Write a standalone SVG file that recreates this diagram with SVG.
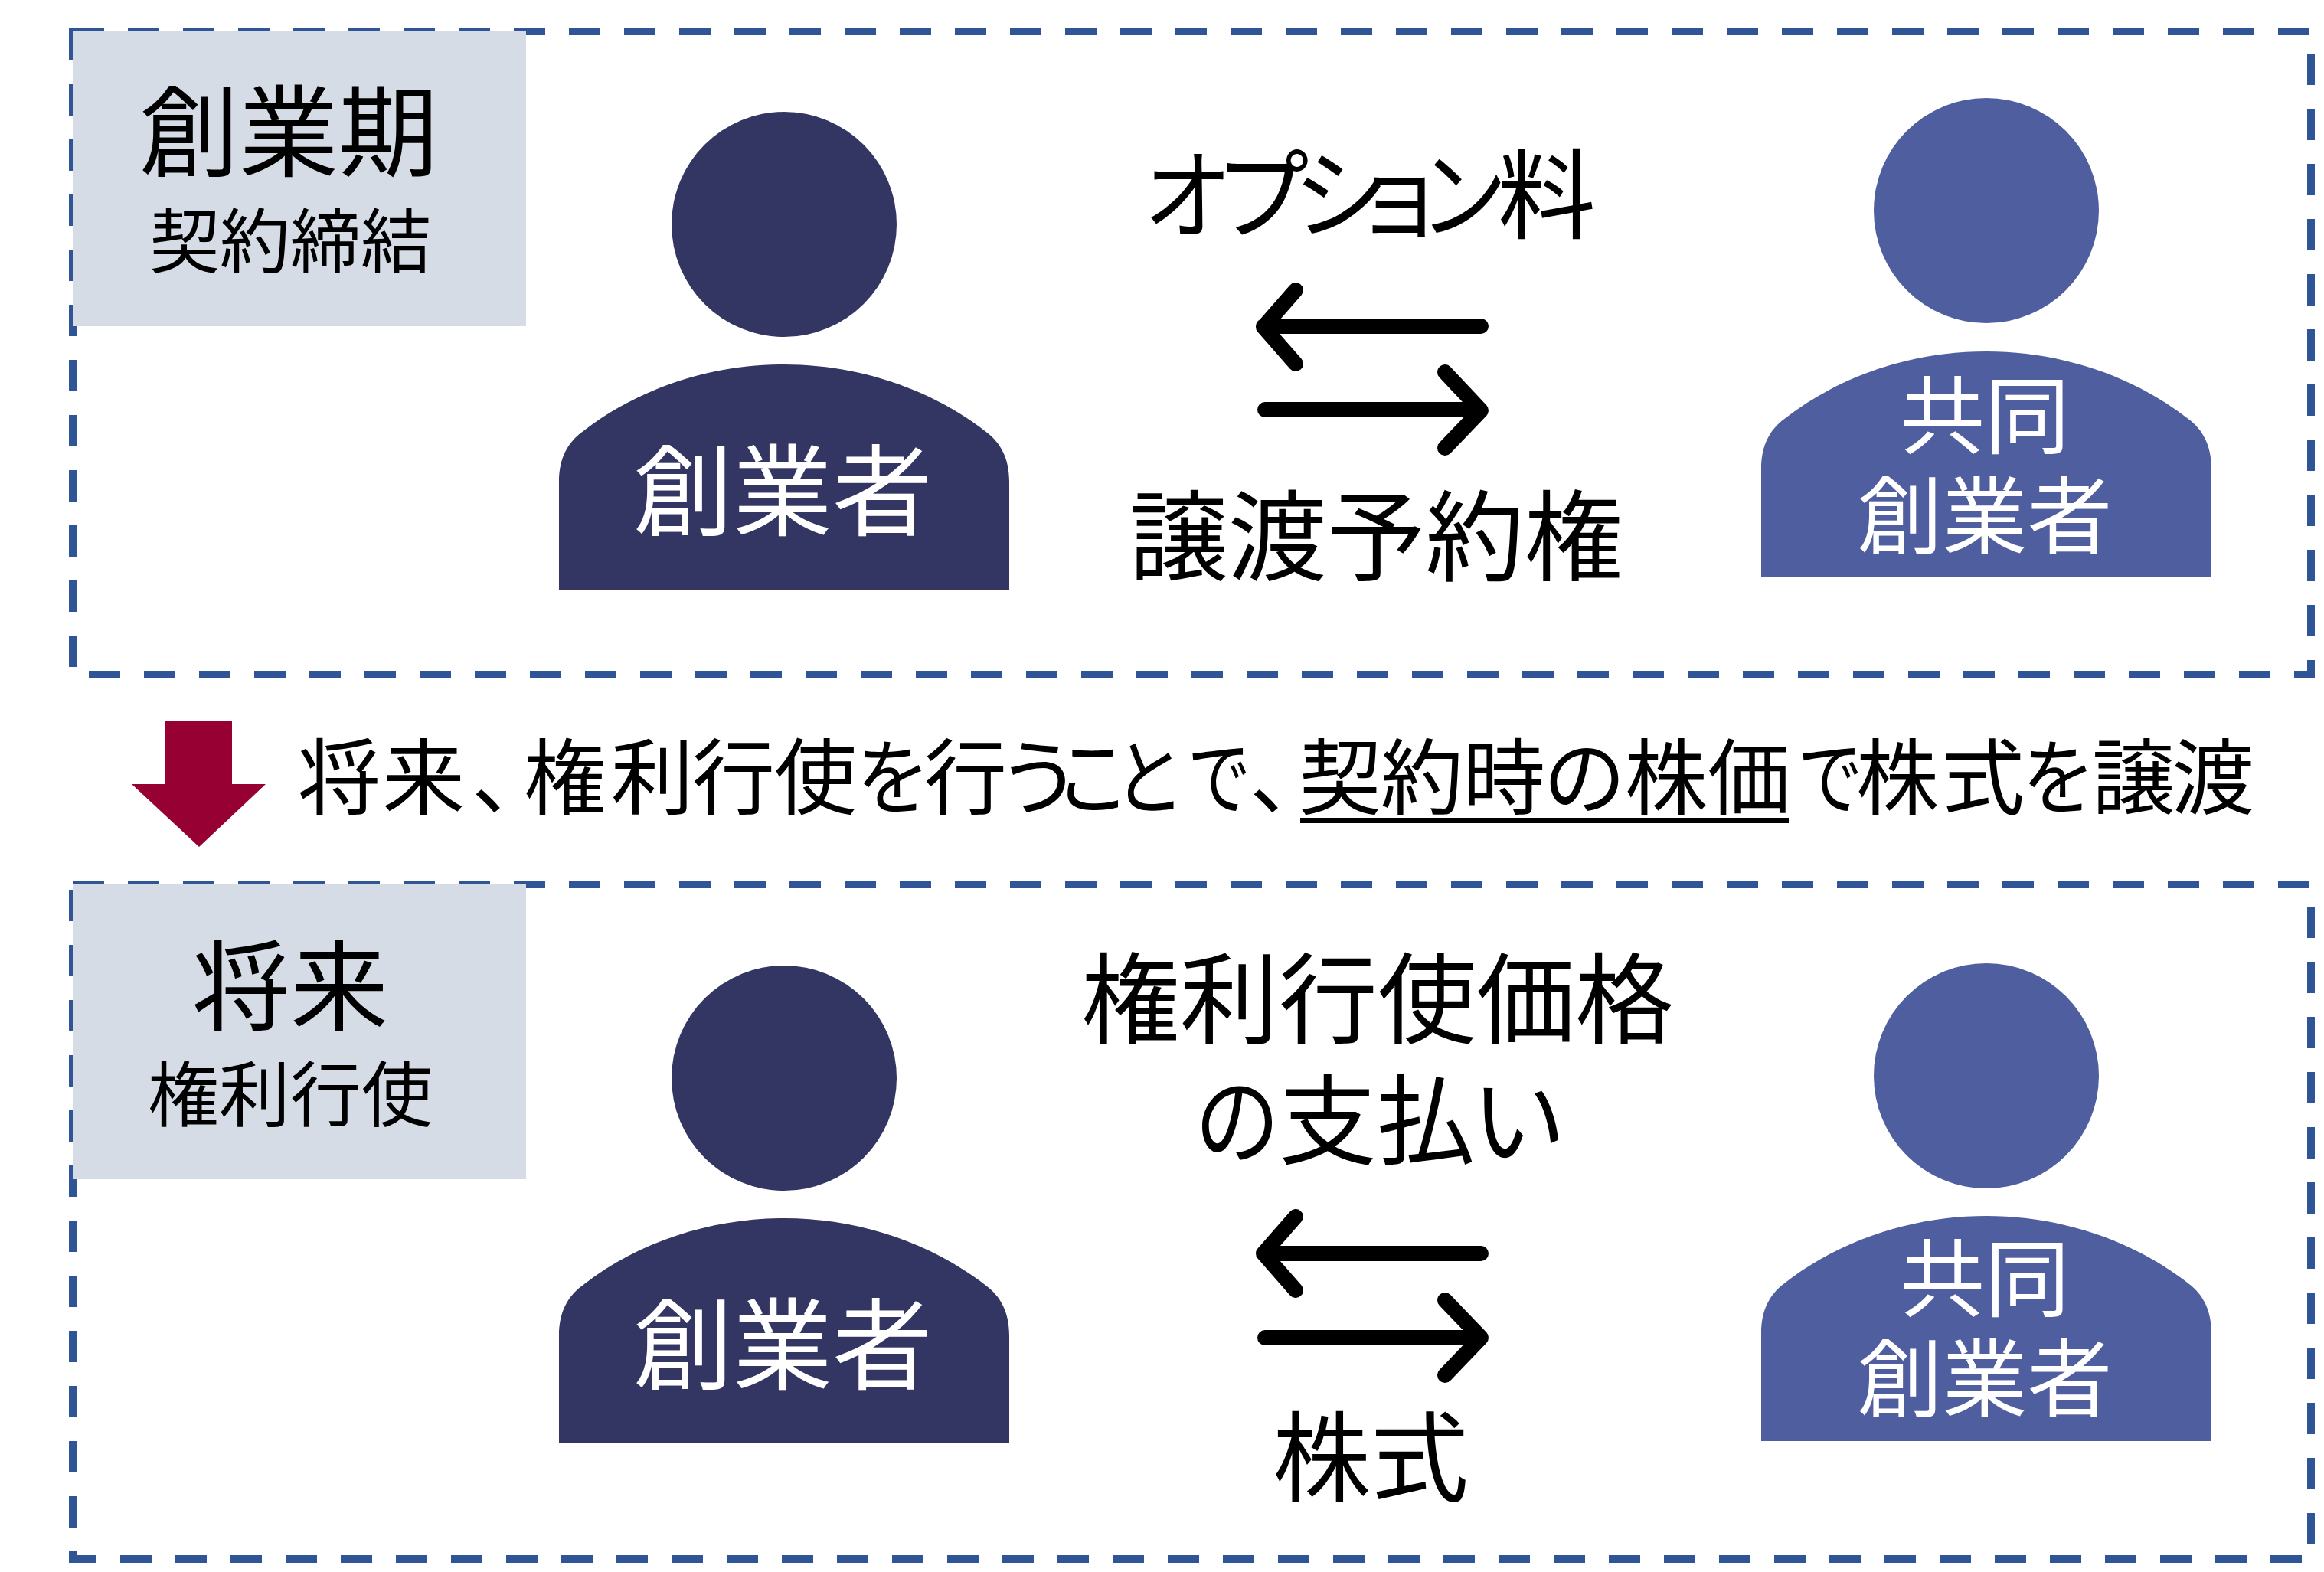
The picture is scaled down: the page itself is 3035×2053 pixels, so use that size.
<svg xmlns="http://www.w3.org/2000/svg" width="3035" height="2053" viewBox="0 0 3035 2053">
<style>
text{font-family:"Noto Sans CJK JP","Noto Sans",sans-serif;fill:#000;text-anchor:middle;font-feature-settings:"palt"}
.s{text-anchor:start}
.w{fill:#fff}
.m{font-size:108px;text-anchor:start}
.k{font-size:128px;text-anchor:start}
.frame{fill:none;stroke:#2F5597;stroke-width:10;stroke-dasharray:41 31}
.tag{fill:#D6DCE5}
.dark{fill:#333563}
.light{fill:#4F5E9F}
.arr{fill:none;stroke:#000;stroke-width:20;stroke-linecap:round;stroke-linejoin:round}
</style>
<defs>
<path id="body" d="M-294,294V153C-294,122-282,102-265,89C-190,30-94,0,0,0C94,0,190,30,265,89C282,102,294,122,294,153V294Z"/>
</defs>
<rect width="3035" height="2053" fill="#fff"/>
<g id="panel-top"><rect class="frame" x="95" y="41" width="2923" height="840"/></g>
<g id="panel-bottom"><rect class="frame" x="95" y="1155" width="2923" height="881"/></g>
<g id="tag-top"><rect class="tag" x="95" y="41" width="592" height="385"/>
<text x="377" y="220" font-size="130">創業期</text><text x="379" y="349" font-size="92">契約締結</text></g>
<g id="tag-bottom"><rect class="tag" x="95" y="1155" width="592" height="385"/>
<text x="379" y="1336" font-size="128">将来</text><text x="379" y="1464" font-size="93">権利行使</text></g>
<g id="founder-top"><circle class="dark" cx="1024" cy="293" r="147"/><use href="#body" class="dark" x="1024" y="476"/>
<text class="w" x="1022" y="689" font-size="130">創業者</text></g>
<g id="cofounder-top"><circle class="light" cx="2594" cy="275" r="147"/><use href="#body" class="light" x="2594" y="459"/>
<text class="w" x="2592" y="584" font-size="111">共同</text><text class="w" x="2592" y="715" font-size="111">創業者</text></g>
<g id="founder-bottom"><circle class="dark" cx="1024" cy="1408" r="147"/><use href="#body" class="dark" x="1024" y="1591"/>
<text class="w" x="1022" y="1804" font-size="130">創業者</text></g>
<g id="cofounder-bottom"><circle class="light" cx="2594" cy="1405" r="147"/><use href="#body" class="light" x="2594" y="1588"/>
<text class="w" x="2592" y="1711" font-size="111">共同</text><text class="w" x="2592" y="1842" font-size="111">創業者</text></g>
<g id="connectors">
<path class="arr" d="M1934,426H1650M1692,379L1650,427L1692,475"/>
<path class="arr" d="M1652,535H1932M1887,486L1934,536L1887,585"/>
<path class="arr" d="M1934,1637H1650M1692,1589L1650,1637L1692,1685"/>
<path class="arr" d="M1652,1747H1932M1887,1698L1934,1747L1887,1796"/>
</g>
<g id="labels">
<text class="k" y="302" x="1495" textLength="107" lengthAdjust="spacingAndGlyphs">オ</text>
<text class="k" y="302" x="1594" textLength="113" lengthAdjust="spacingAndGlyphs">プ</text>
<text class="k" y="302" x="1690" textLength="116" lengthAdjust="spacingAndGlyphs">シ</text>
<text class="k" y="302" x="1783" textLength="90" lengthAdjust="spacingAndGlyphs">ョ</text>
<text class="k" y="302" x="1860" textLength="102" lengthAdjust="spacingAndGlyphs">ン</text>
<text class="k" x="1956" y="302">料</text>
<text x="1797" y="749" font-size="129">譲渡予約権</text>
<text x="1799" y="1353" font-size="129">権利行使価格</text>
<text class="k" y="1511" x="1562" textLength="107" lengthAdjust="spacingAndGlyphs">の</text>
<text class="k" y="1511" x="1670">支払</text>
<text class="k" y="1511" x="1924" textLength="116" lengthAdjust="spacingAndGlyphs">い</text>
<text x="1790" y="1951" font-size="128">株式</text>
</g>
<g id="transition">
<path d="M216,941H303V1024H347L260,1106L172,1024H216Z" fill="#960032"/>
<text class="m" y="1055" x="389 499 617 684 798 904 1011">将来、権利行使</text>
<text class="m" y="1055" x="1120" textLength="88" lengthAdjust="spacingAndGlyphs">を</text>
<text class="m" y="1055" x="1207">行</text>
<text class="m" y="1055" x="1310" textLength="92" lengthAdjust="spacingAndGlyphs">う</text>
<text class="m" y="1055" x="1384" textLength="86" lengthAdjust="spacingAndGlyphs">こ</text>
<text class="m" y="1055" x="1457" textLength="82" lengthAdjust="spacingAndGlyphs">と</text>
<text class="m" y="1055" x="1554" textLength="76" lengthAdjust="spacingAndGlyphs">で</text>
<text class="m" y="1055" x="1633">、</text>
<text class="m" y="1055" x="1696 1803 1910 2017 2122 2230">契約時の株価</text>
<text class="m" y="1055" x="2351" textLength="78" lengthAdjust="spacingAndGlyphs">で</text>
<text class="m" y="1055" x="2424 2536">株式</text>
<text class="m" y="1055" x="2642" textLength="88" lengthAdjust="spacingAndGlyphs">を</text>
<text class="m" y="1055" x="2732 2836">譲渡</text>
<rect x="1698" y="1068" width="638" height="7"/>
</g>
</svg>
